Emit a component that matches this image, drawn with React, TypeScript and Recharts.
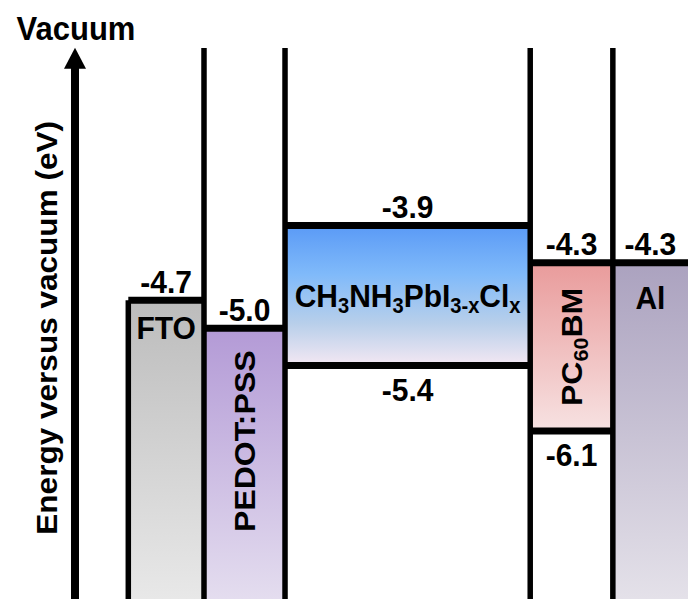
import React from 'react';
import { ComposedChart, XAxis, YAxis, ReferenceArea, ReferenceLine, Scatter } from 'recharts';

// energy levels (eV vs vacuum)
const layerNames = ['FTO', 'PEDOT:PSS', 'CH_3NH_3PbI_{3-x}Cl_x', 'PC_{60}BM', 'Al'];
const upperLevels = [-4.7, -5.0, -3.9, -4.3, -4.3];
const lowerLevels: (number | null)[] = [null, null, -5.4, -6.1, null];
// layer boundaries along the stacking direction (unitless)
const layerEdges = [1, 2.42, 3.94, 8.54, 10.09, 11.5];
const energyDomain = [-7.9, -2];
const stackDomain = [0, 11.5];

const FONT = '"Liberation Sans", Arial, Helvetica, sans-serif';
const LABEL_SIZE = 30;
const STRETCH = 1.07; // glyphs in the source are slightly taller than wide

const gradients = [
  [['0', '#bcbcbc'], ['1', '#e8e8e8']],
  [['0', '#b39ad6'], ['1', '#e4ddef']],
  [['0', '#5a9af6'], ['0.35', '#80bafa'], ['0.7', '#b8cfea'], ['1', '#f4e8f3']],
  [['0', '#e99b9b'], ['1', '#f7e2e2']],
  [['0', '#aba2bf'], ['1', '#e4e1e9']],
];

// where each layer name sits inside its box
const nameLayout = [
  { rotate: false, fromTop: 27 },
  { rotate: true, fromTop: 113 },
  { rotate: false, fromTop: null },
  { rotate: true, fromTop: null },
  { rotate: false, fromTop: 35 },
];

function parseSub(s: string) {
  const parts: { t: string; sub: boolean }[] = [];
  const re = /_\{([^}]*)\}|_(.)|([^_]+)/g;
  let m;
  while ((m = re.exec(s)) !== null) {
    if (m[1] !== undefined) parts.push({ t: m[1], sub: true });
    else if (m[2] !== undefined) parts.push({ t: m[2], sub: true });
    else parts.push({ t: m[3], sub: false });
  }
  return parts;
}

// text centred (cap-height centre) on cx, cy
const RichText = ({ cx, cy, text, size, rotate }: any) => {
  const parts = parseSub(text);
  const subShift = size * 0.2;
  let shift = 0;
  const y = cy + size * 0.358;
  const transform = `translate(${cx} ${cy}) scale(1 ${STRETCH}) ${rotate ? 'rotate(-90) ' : ''}translate(${-cx} ${-cy})`;
  return (
    <text
      x={cx}
      y={y}
      textAnchor="middle"
      fontFamily={FONT}
      fontWeight="bold"
      fontSize={size}
      fill="#000"
      transform={transform}
    >
      {parts.map((p, i) => {
        const target = p.sub ? subShift : 0;
        const dy = target - shift;
        shift = target;
        return (
          <tspan key={i} dy={dy} fontSize={p.sub ? size * 0.67 : size}>
            {p.t}
          </tspan>
        );
      })}
    </text>
  );
};

const NameLabel = ({ viewBox, index }: any) => {
  if (!viewBox) return null;
  const layout = nameLayout[index];
  const cx = viewBox.x + viewBox.width / 2;
  const cy = layout.fromTop == null ? viewBox.y + viewBox.height / 2 : viewBox.y + layout.fromTop;
  return <RichText cx={cx} cy={cy} text={layerNames[index]} size={LABEL_SIZE} rotate={layout.rotate} />;
};

const LevelLabel = ({ viewBox, level, below }: any) => {
  if (!viewBox) return null;
  const cx = viewBox.x + viewBox.width / 2;
  const cy = below ? viewBox.y + 24 : viewBox.y - 19;
  return <RichText cx={cx} cy={cy} text={level.toFixed(1)} size={LABEL_SIZE} />;
};

// arrow head, "Vacuum" and the rotated axis title, hung on the axis shaft
const AxisDecor = ({ viewBox }: any) => {
  if (!viewBox) return null;
  const x = viewBox.x + viewBox.width / 2;
  const tipY = viewBox.y - 19;
  return (
    <g>
      <path d={`M${x} ${tipY} L${x - 11} ${tipY + 21} L${x + 11} ${tipY + 21} Z`} fill="#000" />
      <RichText cx={x + 1} cy={tipY - 20} text="Vacuum" size={31} />
      <RichText cx={x - 29} cy={viewBox.y + viewBox.height / 2 - 5} text="Energy versus vacuum (eV)" size={29.5} rotate />
    </g>
  );
};

const levelPoints = layerNames.map((name, i) => ({ x: (layerEdges[i] + layerEdges[i + 1]) / 2, y: upperLevels[i], name }));

export default function App() {
  const bottom = energyDomain[0];
  const top = energyDomain[1];
  return (
    <div style={{ position: 'fixed', left: 0, top: 0, width: 688, height: 599, background: '#fff' }}>
      <ComposedChart width={688} height={599} data={levelPoints} margin={{ top: 48, right: 0, bottom: 0, left: 75 }}>
        <defs>
          {gradients.map((stops, i) => (
            <linearGradient key={i} id={`layer-grad-${i}`} x1="0" y1="0" x2="0" y2="1">
              {stops.map(([o, c]) => (
                <stop key={o} offset={o} stopColor={c} />
              ))}
            </linearGradient>
          ))}
        </defs>
        <XAxis type="number" dataKey="x" domain={stackDomain} allowDataOverflow hide />
        <YAxis type="number" dataKey="y" domain={energyDomain} allowDataOverflow hide />
        <Scatter dataKey="y" fill="none" isAnimationActive={false} shape={() => <g />} />

        {layerNames.map((name, i) => (
          <ReferenceArea
            key={`area-${name}`}
            x1={layerEdges[i]}
            x2={layerEdges[i + 1]}
            y1={lowerLevels[i] ?? bottom}
            y2={upperLevels[i]}
            fill={`url(#layer-grad-${i})`}
            fillOpacity={1}
            stroke="none"
            ifOverflow="visible"
            label={<NameLabel index={i} />}
          />
        ))}

        {/* vertical interfaces */}
        {layerEdges.slice(0, 5).map((x, i) => (
          <ReferenceLine
            key={`edge-${i}`}
            segment={[{ x, y: i === 0 ? upperLevels[0] : top }, { x, y: bottom }]}
            stroke="#000"
            strokeWidth={5.5}
            ifOverflow="visible"
          />
        ))}

        {/* band edges */}
        {layerNames.map((name, i) => (
          <ReferenceLine
            key={`up-${name}`}
            segment={[{ x: layerEdges[i], y: upperLevels[i] }, { x: layerEdges[i + 1], y: upperLevels[i] }]}
            stroke="#000"
            strokeWidth={7}
            ifOverflow="visible"
            label={<LevelLabel level={upperLevels[i]} />}
          />
        ))}
        {layerNames.map((name, i) =>
          lowerLevels[i] == null ? null : (
            <ReferenceLine
              key={`low-${name}`}
              segment={[{ x: layerEdges[i], y: lowerLevels[i] as number }, { x: layerEdges[i + 1], y: lowerLevels[i] as number }]}
              stroke="#000"
              strokeWidth={7}
              ifOverflow="visible"
              label={<LevelLabel level={lowerLevels[i]} below />}
            />
          )
        )}

        {/* energy axis arrow */}
        <ReferenceLine
          segment={[{ x: stackDomain[0], y: bottom }, { x: stackDomain[0], y: top - 0.2 }]}
          stroke="#000"
          strokeWidth={8}
          ifOverflow="visible"
          label={<AxisDecor />}
        />
      </ComposedChart>
    </div>
  );
}
